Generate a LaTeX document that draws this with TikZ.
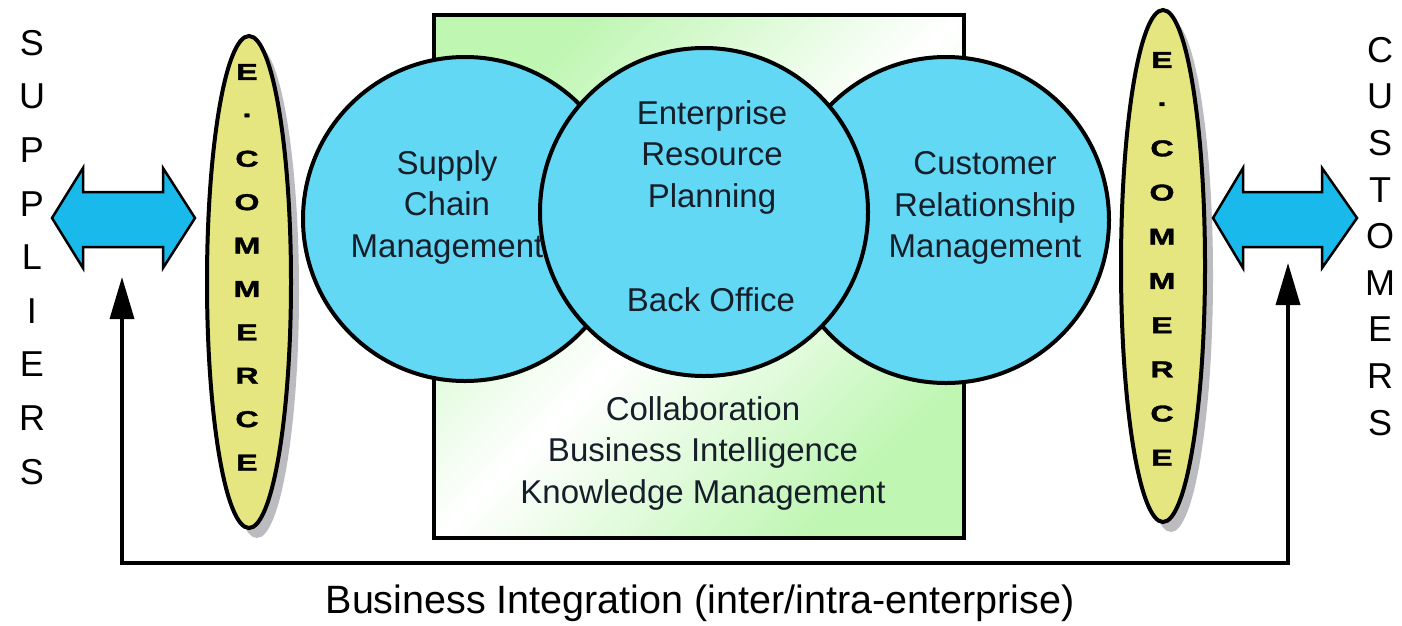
\documentclass[tikz,border=0pt]{standalone}
\usepackage{fontspec}
\setmainfont{Liberation Sans}
\newfontfamily\ecomfont{Liberation Sans}[FakeStretch=1.4, BoldFont={* Bold}, BoldFeatures={FakeBold=1.5}]
\usetikzlibrary{arrows.meta}
\definecolor{bubblecyan}{RGB}{99,216,245}
\definecolor{arrowcyan}{RGB}{25,185,235}
\definecolor{ecomyellow}{RGB}{230,230,128}
\definecolor{boxgreen}{RGB}{190,246,178}
\definecolor{shadowgray}{RGB}{188,188,192}
\definecolor{inktext}{RGB}{22,30,42}
\tikzset{
  bubble/.style={fill=bubblecyan, draw=black, line width=4pt},
  ecomshape/.style={fill=ecomyellow, draw=black, line width=4pt},
  fatarrow/.style={fill=arrowcyan, draw=black, line width=2.5pt, line join=miter},
  bubbletext/.style={align=center, text=inktext, font=\fontsize{33}{41.5}\selectfont},
  sideletter/.style={font=\fontsize{36}{36}\selectfont},
  ecomletter/.style={font=\ecomfont\bfseries\fontsize{23}{23}\selectfont},
  intline/.style={line width=3.5pt, {Triangle[length=42pt,width=24pt]}-{Triangle[length=42pt,width=24pt]}}
}
\begin{document}
\begin{tikzpicture}[x=1pt, y=-1pt]
    \useasboundingbox (0,0) rectangle (1402,625);
    % Shadows and the two e-commerce ovals.
        \fill[shadowgray] (257,292) ellipse[x radius=42, y radius=246];
        \fill[shadowgray] (1171,276) ellipse[x radius=42, y radius=256];
        \draw[ecomshape] (249,282) ellipse[x radius=42, y radius=246];
        \draw[ecomshape] (1163,266) ellipse[x radius=42, y radius=256];
    % This draws the shaded box behind the circles.
        \shade[top color=boxgreen, bottom color=boxgreen, middle color=white, shading angle=45]
            (434,15) rectangle (964,538);
        \draw[line width=4pt] (434,15) rectangle (964,538);
    % Circles, the middle one last.
        \draw[bubble] (465,219) circle[radius=162];
        \draw[bubble] (946,220) circle[radius=163];
        \draw[bubble] (704,212) circle[radius=164];
    % The two fat double arrows.
        \draw[fatarrow] (52,218) -- (83,168) -- (83,192) -- (163,192) -- (163,168) -- (195,218)
            -- (163,268) -- (163,247) -- (83,247) -- (83,268) -- cycle;
        \draw[fatarrow] (1213,218) -- (1243,168) -- (1243,192) -- (1322,192) -- (1322,168) -- (1357,218)
            -- (1322,268) -- (1322,247) -- (1243,247) -- (1243,268) -- cycle;
    % Below nodes are the labels.
        \node[bubbletext] (scm) at (447,207) {Supply\\Chain\\Management};
        \node[bubbletext] (erp) at (712,157) {Enterprise\\Resource\\Planning};
        \node[bubbletext] (back) at (711,300) {Back Office};
        \node[bubbletext] (crm) at (985,208) {Customer\\Relationship\\Management};
        \node[bubbletext] (collab) at (703,453) {Collaboration\\Business Intelligence\\Knowledge Management};
        \foreach \ch [count=\i from 0] in {S,U,P,P,L,I,E,R,S}
            \node[sideletter] (sup\i) at (32, 43+53.6*\i) {\ch};
        \foreach \ch [count=\i from 0] in {C,U,S,T,O,M,E,R,S}
            \node[sideletter] (cus\i) at (1380, 50+46.6*\i) {\ch};
        \foreach \ch [count=\i from 0] in {E,.,C,O,M,M,E,R,C,E} {
            \node[ecomletter] (ecl\i) at (247, 72+43.4*\i) {\ch};
            \node[ecomletter] (ecr\i) at (1162, 60+44.2*\i) {\ch};
        }
        \node[font=\fontsize{39.5}{44}\selectfont] (bizint) at (700,603) {Business Integration (inter/intra-enterprise)};
    % Integration line with arrows up to both sides.
        \coordinate (supTip) at (122,277);
        \coordinate (cusTip) at (1288,263);
        \coordinate (bizL) at (122,563);
        \coordinate (bizR) at (1288,563);
        \draw[intline] (supTip) -- (bizL) -- (bizR) -- (cusTip);
\end{tikzpicture}
\end{document}
